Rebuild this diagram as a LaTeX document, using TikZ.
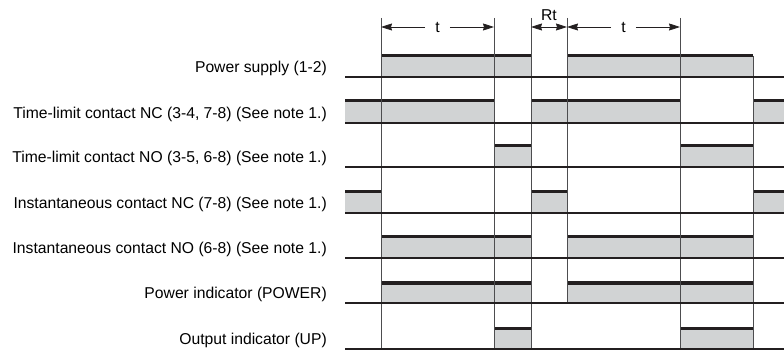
\documentclass[tikz,border=0pt]{standalone}
\usepackage{fontspec}
\setmainfont{Liberation Sans}
\usetikzlibrary{arrows.meta}
\definecolor{lvl}{HTML}{D1D3D4}
\definecolor{ink}{HTML}{231F20}
\definecolor{vgray}{HTML}{4D4D4F}
\tikzset{
  lbl/.style={anchor=east,inner sep=0pt,font=\fontsize{15.7}{18}\selectfont},
  baseln/.style={draw=ink,line width=1.4pt},
  highln/.style={draw=ink,line width=3pt},
  vline/.style={draw=vgray,line width=0.9pt},
  hifill/.style={fill=lvl},
  dimarrow/.style={draw=ink,line width=0.8pt,-{Stealth[length=11pt,width=7pt,inset=1pt]}},
  dimtext/.style={inner sep=0pt,font=\fontsize{15.7}{18}\selectfont}
}
\begin{document}
\begin{tikzpicture}[x=1pt,y=-1pt]
\useasboundingbox (0,0) rectangle (784,355);
% x positions
\def\xL{345}\def\xA{381}\def\xB{494}\def\xC{531}\def\xD{567}\def\xE{680}\def\xF{753}\def\xR{784}
% rows: baselines 77,123,167,213,258,303,349 ; highs 56,101,146,192,237,283,328
\foreach \lo/\hi/\xa/\xb in {
  77/56/\xA/\xC, 77/56/\xD/\xF,
  123/101/\xL/\xB, 123/101/\xC/\xE, 123/101/\xF/\xR,
  167/146/\xB/\xC, 167/146/\xE/\xF,
  213/192/\xL/\xA, 213/192/\xC/\xD, 213/192/\xF/\xR,
  258/237/\xA/\xC, 258/237/\xD/\xF,
  303/283/\xA/\xC, 303/283/\xD/\xF,
  349/328/\xB/\xC, 349/328/\xE/\xF}{
  \fill[hifill] (\xa,\lo) rectangle (\xb,\hi);
  \draw[highln] (\xa,\hi) -- (\xb,\hi);
}
% vertical lines
\draw[vline] (\xA,18) -- (\xA,349);
\draw[vline] (\xB,18) -- (\xB,349);
\draw[vline] (\xC,18) -- (\xC,349);
\draw[vline] (\xD,18) -- (\xD,303);
\draw[vline] (\xE,18) -- (\xE,349);
\draw[vline] (\xF,56) -- (\xF,349);
% baselines
\foreach \lo in {77,123,167,213,258,303,349}{
  \draw[baseln] (\xL,\lo) -- (\xR,\lo);
}
% labels
\node[lbl] (l1) at (327,68) {Power supply (1-2)};
\node[lbl] (l2) at (327,114) {Time-limit contact NC (3-4, 7-8) (See note 1.)};
\node[lbl] (l3) at (327,158) {Time-limit contact NO (3-5, 6-8) (See note 1.)};
\node[lbl] (l4) at (327,204) {Instantaneous contact NC (7-8) (See note 1.)};
\node[lbl] (l5) at (327,249) {Instantaneous contact NO (6-8) (See note 1.)};
\node[lbl] (l6) at (327,294) {Power indicator (POWER)};
\node[lbl] (l7) at (327,340) {Output indicator (UP)};
% dimension arrows
\coordinate (dA) at (\xA,27);
\coordinate (dB) at (\xB,27);
\coordinate (dC) at (\xC,27);
\coordinate (dD) at (\xD,27);
\coordinate (dE) at (\xE,27);
\node[dimtext,inner xsep=10pt,inner ysep=2pt] (t1) at (437.5,27) {t};
\node[dimtext,inner xsep=10pt,inner ysep=2pt] (t2) at (623.5,27) {t};
\node[dimtext] (rt) at (549,15) {Rt};
\draw[dimarrow] (t1.west) -- (dA);
\draw[dimarrow] (t1.east) -- (dB);
\draw[dimarrow] (t2.west) -- (dD);
\draw[dimarrow] (t2.east) -- (dE);
\draw[dimarrow,{Stealth[length=11pt,width=7pt,inset=1pt]}-{Stealth[length=11pt,width=7pt,inset=1pt]}] (dC) -- (dD);
\end{tikzpicture}
\end{document}
